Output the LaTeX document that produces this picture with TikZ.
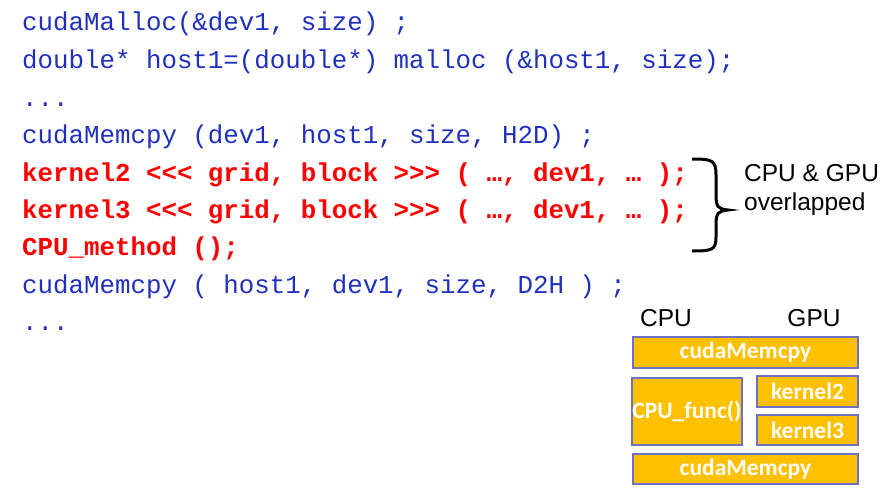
\documentclass[tikz,border=0pt]{standalone}
\usepackage{fontspec}
\setmainfont{Liberation Sans}
\newfontfamily\codef{Liberation Mono}
\newfontfamily\calf{Carlito}
\begin{document}
\begin{tikzpicture}[x=1pt,y=-1pt,
  code/.style={anchor=base west,inner sep=0pt,font=\codef\fontsize{25.8}{25.8}\selectfont,text=codeblue},
  hot/.style={code,font=\codef\bfseries\fontsize{25.8}{25.8}\selectfont,text=red},
  blk/.style={draw=boxedge,line width=2pt,fill=boxfill,text=white,font=\calf\bfseries\fontsize{23.5}{23.5}\selectfont,inner sep=0pt},
  lbl/.style={font=\fontsize{24.5}{24.5}\selectfont,inner sep=0pt}]
\definecolor{codeblue}{RGB}{32,48,190}
\definecolor{boxfill}{RGB}{255,192,0}
\definecolor{boxedge}{RGB}{112,112,192}
\useasboundingbox (0,0) rectangle (891,503);
\node[code] (l1) at (22,31) {cudaMalloc(\&dev1, size) ;};
\node[code] (l2) at (22,69) {double* host1=(double*) malloc (\&host1, size);};
\node[code] (l3) at (22,106) {...};
\node[code] (l4) at (22,143) {cudaMemcpy (dev1, host1, size, H2D) ;};
\node[hot] (l5) at (22,181) {kernel2 <<< grid, block >>> ( …, dev1, … );};
\node[hot] (l6) at (22,218) {kernel3 <<< grid, block >>> ( …, dev1, … );};
\node[hot] (l7) at (22,255) {CPU\_method ();};
\node[code] (l8) at (22,293) {cudaMemcpy ( host1, dev1, size, D2H ) ;};
\node[code] (l9) at (22,330) {...};
\draw[line width=3pt] (692,159) .. controls (712,159) and (716,160) .. (716,175) -- (716,195) .. controls (716,207) and (718,209) .. (728,210) .. controls (718,211) and (716,213) .. (716,225) -- (716,237) .. controls (716,250) and (712,251) .. (692,251);
\node[lbl,anchor=west] (t1) at (744,173) {CPU \& GPU};
\node[lbl,anchor=west] (t2) at (744,204) {overlapped};
\node[lbl] (cpu) at (666,318) {CPU};
\node[lbl] (gpu) at (814,318) {GPU};
\node[blk,minimum width=225,minimum height=31] (m1) at (745.5,352.5) {cudaMemcpy};
\node[blk,minimum width=108,minimum height=67] (cf) at (687,411.5) {CPU\_func()};
\node[blk,minimum width=101,minimum height=31] (k2) at (807.5,391.5) {kernel2};
\node[blk,minimum width=101,minimum height=30] (k3) at (807.5,430) {kernel3};
\node[blk,minimum width=225,minimum height=30] (m2) at (745.5,469) {cudaMemcpy};
\end{tikzpicture}
\end{document}
